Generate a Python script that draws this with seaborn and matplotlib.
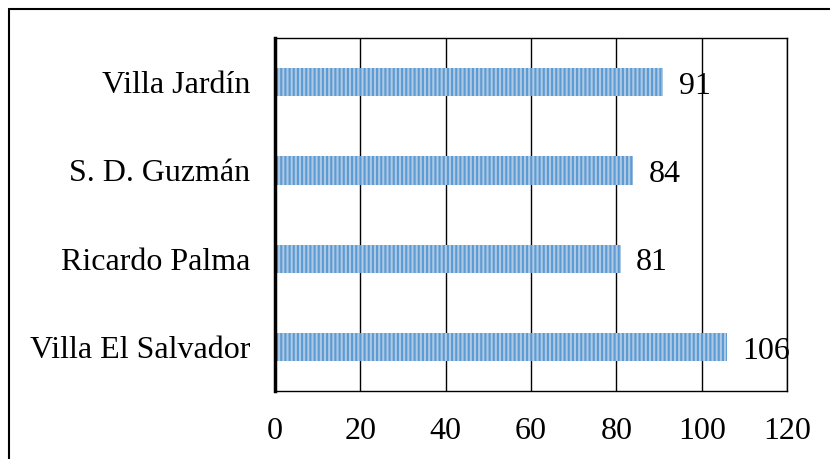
import matplotlib
matplotlib.use('Agg')
import pandas as pd
import seaborn as sns
import matplotlib.pyplot as plt
from matplotlib.lines import Line2D

# ==================== Data ====================
DISTRICTS = ['Villa Jardín', 'S. D. Guzmán', 'Ricardo Palma', 'Villa El Salvador']
COUNTS = [91, 84, 81, 106]
X_TICKS = [0, 20, 40, 60, 80, 100, 120]
# ==============================================

df = pd.DataFrame({'District': DISTRICTS, 'Count': COUNTS})

sns.set_style('white')
plt.rcParams['font.family'] = ['Liberation Serif', 'DejaVu Serif']
plt.rcParams['hatch.linewidth'] = 1.5

FS = 23

fig = plt.figure(figsize=(8.3, 4.59), dpi=100)
ax = fig.add_axes([0.3313, 0.148, 0.617, 0.769])

sns.barplot(data=df, x='Count', y='District', order=DISTRICTS, orient='h',
            color='#A6C9EC', width=0.32, ax=ax)

# striped fill like the original chart
for p in ax.patches:
    p.set_hatch('||||')
    p.set_edgecolor('#5B9BD5')
    p.set_linewidth(0)

# value labels to the right of each bar
for p, val in zip(ax.patches, COUNTS):
    ax.annotate(f'{val}', (p.get_width(), p.get_y() + p.get_height() / 2),
                xytext=(11, -3), textcoords='offset points',
                ha='left', va='center', fontsize=FS, color='black')

ax.set_xlim(0, 120)
ax.set_ylim(3.5, -0.5)
ax.set_xticks(X_TICKS)
ax.set_xlabel('')
ax.set_ylabel('')
ax.tick_params(axis='both', labelsize=FS, length=0, labelcolor='black')
ax.tick_params(axis='y', pad=18)
ax.tick_params(axis='x', pad=19)

ax.xaxis.grid(True, color='black', linewidth=1.0)
ax.set_axisbelow(True)
for side in ['top', 'right', 'bottom']:
    ax.spines[side].set_color('black')
    ax.spines[side].set_linewidth(1.0)
ax.spines['left'].set_color('black')
ax.spines['left'].set_linewidth(2.5)

# outer frame (left and top edges visible)
fig.add_artist(Line2D([9 / 830, 9 / 830], [0, 1 - 9 / 459], transform=fig.transFigure,
                      color='black', linewidth=1.5))
fig.add_artist(Line2D([9 / 830, 1], [1 - 9 / 459, 1 - 9 / 459], transform=fig.transFigure,
                      color='black', linewidth=1.5))

plt.savefig('out.png', dpi=100)
plt.close()
